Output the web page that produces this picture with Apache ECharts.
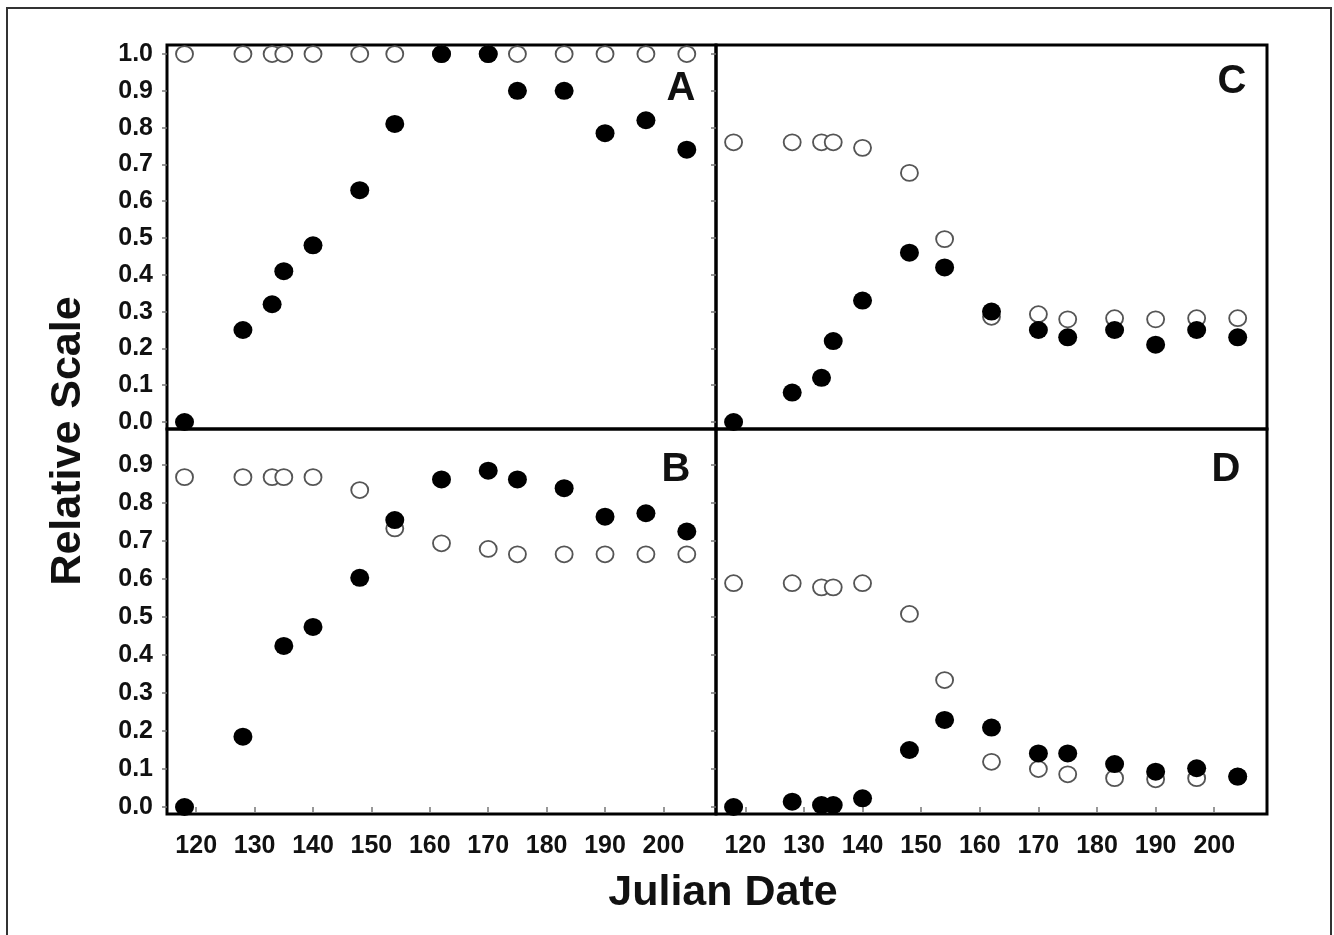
<!DOCTYPE html>
<html>
<head>
<meta charset="utf-8">
<script src="https://cdn.jsdelivr.net/npm/echarts@6/dist/echarts.min.js"></script>
<style>
  html, body { margin: 0; padding: 0; background: #fff; }
  #chart { width: 1334px; height: 935px; }
</style>
</head>
<body>
<div id="chart"></div>
<script>
// ---- data ----
const dates = [118, 128, 133, 135, 140, 148, 154, 162, 170, 175, 183, 190, 197, 204];

const aFilled = [0.00, 0.25, 0.32, 0.41, 0.48, 0.63, 0.81, 1.00, 1.00, 0.90, 0.90, 0.785, 0.82, 0.74];
const aOpen   = [1.00, 1.00, 1.00, 1.00, 1.00, 1.00, 1.00, 1.00, 1.00, 1.00, 1.00, 1.00, 1.00, 1.00];

const bFilled = [0.00, 0.185, null, 0.424, 0.474, 0.603, 0.755, 0.862, 0.885, 0.862, 0.839, 0.764, 0.773, 0.725];
const bOpen   = [0.868, 0.868, 0.868, 0.868, 0.868, 0.834, 0.733, 0.694, 0.679, 0.665, 0.665, 0.665, 0.665, 0.665];

const cFilled = [0.00, 0.08, 0.12, 0.22, 0.33, 0.46, 0.42, 0.30, 0.25, 0.23, 0.25, 0.21, 0.25, 0.23];
const cOpen   = [0.76, 0.76, 0.76, 0.76, 0.745, 0.677, 0.497, 0.286, 0.293, 0.279, 0.282, 0.279, 0.282, 0.282];

const dFilled = [0.00, 0.014, 0.005, 0.005, 0.023, 0.150, 0.229, 0.209, 0.141, 0.141, 0.113, 0.093, 0.102, 0.080];
const dOpen   = [0.589, 0.589, 0.578, 0.578, 0.589, 0.508, 0.334, 0.119, 0.100, 0.086, 0.076, 0.073, 0.076, 0.080];

const xTicks = [120, 130, 140, 150, 160, 170, 180, 190, 200];
const yTicksTop = [0, 0.1, 0.2, 0.3, 0.4, 0.5, 0.6, 0.7, 0.8, 0.9, 1.0];
const yTicksBottom = [0, 0.1, 0.2, 0.3, 0.4, 0.5, 0.6, 0.7, 0.8, 0.9];

const panelLetters = ['A', 'B', 'C', 'D'];
const xTitle = 'Julian Date';
const yTitle = 'Relative Scale';

// ---- chart ----
const FONT = '"Liberation Sans", Arial, sans-serif';
const pairs = (ys) => dates.map((d, i) => [d, ys[i]]).filter(p => p[1] !== null);

const grids = [
  { left: 167, top: 45,  width: 549, height: 384 }, // A
  { left: 167, top: 429, width: 549, height: 385 }, // B
  { left: 716, top: 45,  width: 551, height: 384 }, // C
  { left: 716, top: 429, width: 551, height: 385 }  // D
].map(g => Object.assign(g, { show: true, borderColor: '#000', borderWidth: 3, backgroundColor: 'transparent' }));

function xAxis(gi, showLabels) {
  return {
    type: 'value', gridIndex: gi, min: 115, max: 209,
    axisLine: { show: false },
    splitLine: { show: false },
    axisTick: { show: showLabels, customValues: xTicks, length: 5, inside: false, lineStyle: { color: '#777', width: 1.5 } },
    axisLabel: { show: showLabels, customValues: xTicks, margin: 20, fontFamily: FONT, fontWeight: 'bold', fontSize: 25, color: '#111' }
  };
}
function yAxis(gi, top, showLabels) {
  return {
    type: 'value', gridIndex: gi,
    min: top ? -0.019 : -0.0184,
    max: top ? 1.0245 : 0.9947,
    axisLine: { show: false },
    splitLine: { show: false },
    axisTick: { show: true, customValues: top ? yTicksTop : yTicksBottom, length: 5, lineStyle: { color: '#777', width: 1.5 } },
    axisLabel: { show: showLabels, customValues: top ? yTicksTop : yTicksBottom, margin: 14,
      formatter: v => Number(v).toFixed(1),
      fontFamily: FONT, fontWeight: 'bold', fontSize: 25, color: '#111' }
  };
}

function openSeries(gi, ys) {
  return { type: 'scatter', xAxisIndex: gi, yAxisIndex: gi, data: pairs(ys), clip: false, z: 3,
    symbol: 'circle', symbolSize: [17, 16],
    itemStyle: { color: '#fff', borderColor: '#555', borderWidth: 1.8, opacity: 1 }, silent: true };
}
function filledSeries(gi, ys) {
  return { type: 'scatter', xAxisIndex: gi, yAxisIndex: gi, data: pairs(ys), clip: false, z: 4,
    symbol: 'circle', symbolSize: [19, 18],
    itemStyle: { color: '#000', opacity: 1 }, silent: true };
}

const letterPos = [[681, 89], [676, 470], [1232, 82], [1226, 470]];

const option = {
  animation: false,
  backgroundColor: '#fff',
  grid: grids,
  xAxis: [xAxis(0, false), xAxis(1, true), xAxis(2, false), xAxis(3, true)],
  yAxis: [yAxis(0, true, true), yAxis(1, false, true), yAxis(2, true, false), yAxis(3, false, false)],
  series: [
    openSeries(0, aOpen), filledSeries(0, aFilled),
    openSeries(1, bOpen), filledSeries(1, bFilled),
    openSeries(2, cOpen), filledSeries(2, cFilled),
    openSeries(3, dOpen), filledSeries(3, dFilled)
  ],
  graphic: [
    { type: 'rect', shape: { x: 7, y: 8, width: 1324, height: 960 }, style: { fill: 'none', stroke: '#333', lineWidth: 2 }, z: 0, silent: true },
    ...panelLetters.map((t, i) => ({
      type: 'text', x: letterPos[i][0], y: letterPos[i][1], z: 10,
      style: { text: t, font: 'bold 40px ' + FONT, fill: '#111', align: 'center', verticalAlign: 'middle' }
    })),
    { type: 'text', x: 723, y: 893, z: 10,
      style: { text: xTitle, font: 'bold 43px ' + FONT, fill: '#111', align: 'center', verticalAlign: 'middle' } },
    { type: 'text', x: 68, y: 441, rotation: Math.PI / 2, z: 10,
      style: { text: yTitle, font: 'bold 43px ' + FONT, fill: '#111', align: 'center', verticalAlign: 'middle' } }
  ]
};

const chart = echarts.init(document.getElementById('chart'), null, { renderer: 'canvas' });
chart.setOption(option);
</script>
</body>
</html>
